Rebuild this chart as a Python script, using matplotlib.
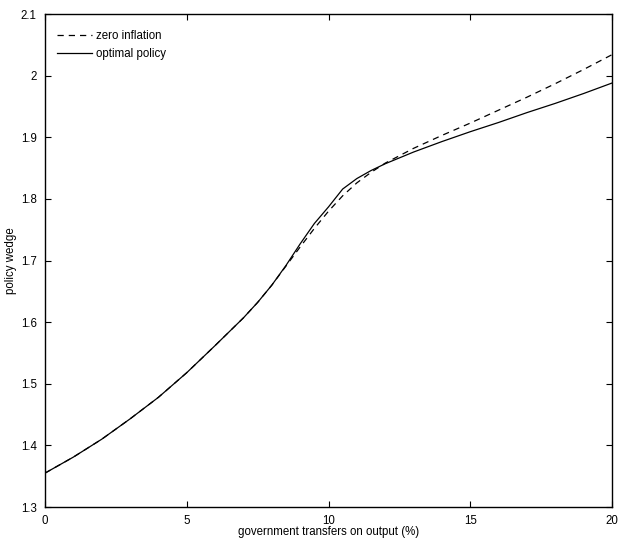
import matplotlib
matplotlib.use('Agg')
import matplotlib.pyplot as plt

plt.rcParams['font.family'] = ['Liberation Sans', 'DejaVu Sans']
plt.rcParams['font.size'] = 8.3

# transfers (% of output)
x_opt = [0, 1, 2, 3, 4, 5, 6, 7, 7.5, 8, 8.5, 9, 9.5, 10, 10.5, 11, 11.5, 12,
         13, 14, 15, 16, 17, 18, 19, 20]
optimal = [1.355, 1.381, 1.410, 1.443, 1.478, 1.518, 1.562, 1.607, 1.632, 1.660,
           1.692, 1.727, 1.760, 1.787, 1.816, 1.833, 1.846, 1.857,
           1.876, 1.893, 1.909, 1.924, 1.940, 1.955, 1.971, 1.988]

x_zero = [0, 1, 2, 3, 4, 5, 6, 7, 7.5, 8, 8.5, 9, 9.5, 10, 10.5, 11, 11.5, 12,
          13, 14, 15, 16, 17, 18, 19, 20]
zero_infl = [1.355, 1.381, 1.410, 1.443, 1.478, 1.518, 1.562, 1.607, 1.632, 1.660,
             1.691, 1.722, 1.752, 1.780, 1.805, 1.826, 1.843, 1.858,
             1.882, 1.903, 1.923, 1.944, 1.965, 1.987, 2.010, 2.034]

xticks = [0, 5, 10, 15, 20]
yticks = [1.3, 1.4, 1.5, 1.6, 1.7, 1.8, 1.9, 2.0, 2.1]
ytick_labels = ['1.3', '1.4', '1.5', '1.6', '1.7', '1.8', '1.9', '2', '2.1']

fig = plt.figure(figsize=(6.2, 5.45), dpi=100)
ax = fig.add_axes([0.0726, 0.0697, 0.9145, 0.9046])

ax.plot(x_zero, zero_infl, 'k--', lw=0.9, dashes=(5, 4), label='zero inflation')
ax.plot(x_opt, optimal, 'k-', lw=0.9, label='optimal policy')

ax.set_xlim(0, 20)
ax.set_ylim(1.3, 2.1)
ax.set_xticks(xticks)
ax.set_xticklabels([str(t) for t in xticks])
ax.set_yticks(yticks)
ax.set_yticklabels(ytick_labels)
ax.tick_params(direction='in', top=True, right=True, length=4, width=0.8)
ax.tick_params(axis='x', pad=6)
ax.tick_params(axis='y', pad=6)
for s in ax.spines.values():
    s.set_linewidth(1.0)

ax.set_xlabel('government transfers on output (%)')
ax.set_ylabel('policy wedge')
ax.xaxis.set_label_coords(0.5, -0.0385)
ax.yaxis.set_label_coords(-0.049, 0.5)

ax.legend(loc='upper left', bbox_to_anchor=(0, 0.99), frameon=False,
          handlelength=3.1, handletextpad=0.3, borderaxespad=0.6,
          labelspacing=0.5)

fig.savefig('out.png', dpi=100)
